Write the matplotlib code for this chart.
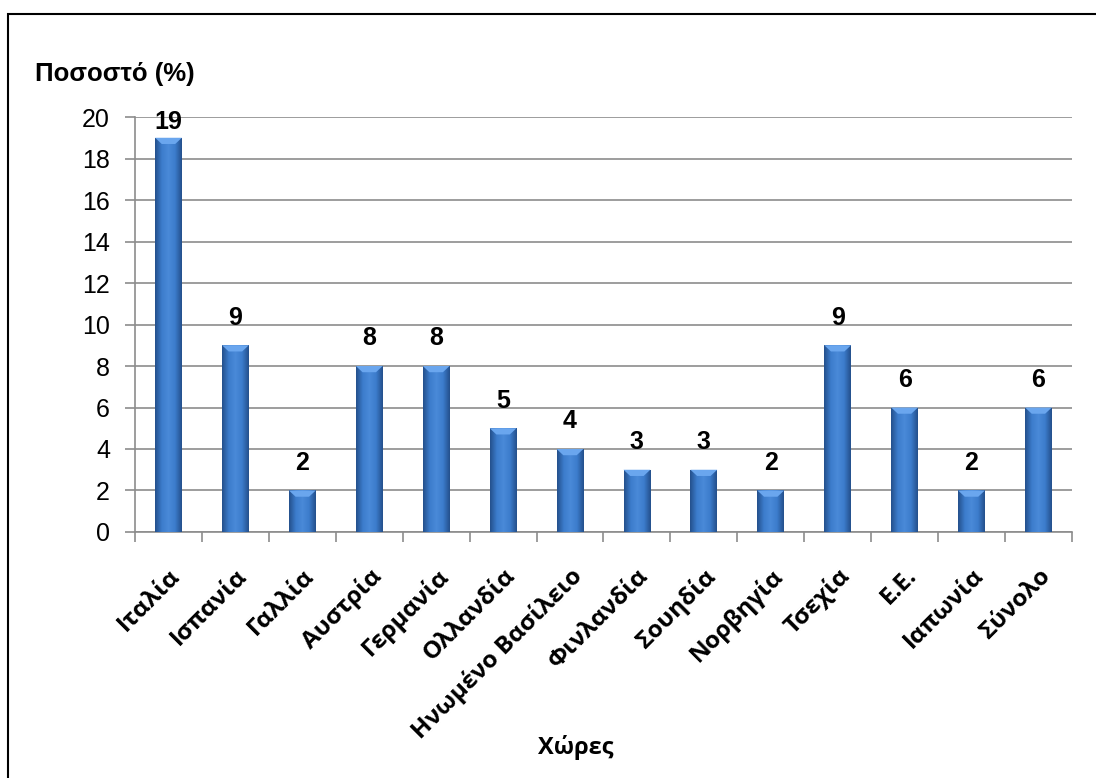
import numpy as np
import matplotlib
matplotlib.use('Agg')
import matplotlib.pyplot as plt
from matplotlib.patches import Rectangle
from matplotlib.colors import LinearSegmentedColormap

plt.rcParams['font.family'] = ['Liberation Sans', 'DejaVu Sans']

# δεδομένα
xores = ['Ιταλία', 'Ισπανία', 'Γαλλία', 'Αυστρία', 'Γερμανία', 'Ολλανδία',
         'Ηνωμένο Βασίλειο', 'Φινλανδία', 'Σουηδία', 'Νορβηγία', 'Τσεχία',
         'Ε.Ε.', 'Ιαπωνία', 'Σύνολο']
pososto = [19, 9, 2, 8, 8, 5, 4, 3, 3, 2, 9, 6, 2, 6]
yticks = list(range(0, 21, 2))

fig = plt.figure(figsize=(10.96, 7.78), dpi=100)
ax = fig.add_axes([0.1232, 0.3162, 0.978 - 0.1232, 0.8496 - 0.3162])

x = np.arange(len(xores))
bars = ax.bar(x, pososto, width=0.4, color='#3a78c8', edgecolor='none', zorder=3)

# οριζόντια διαβάθμιση σε κάθε μπάρα
cmap = LinearSegmentedColormap.from_list('mple', ['#24508c', '#3c7ccc', '#4a8ad8', '#3c7ccc', '#24508c'])
grad = np.linspace(0, 1, 64).reshape(1, -1)
for b, v in zip(bars, pososto):
    x0, w, h = b.get_x(), b.get_width(), b.get_height()
    im = ax.imshow(grad, cmap=cmap, aspect='auto', extent=[x0, x0 + w, 0, h], zorder=4)
    im.set_clip_path(b)
    # φωτεινό πάνω τμήμα
    ax.fill([x0, x0 + w, x0 + w * 0.75, x0 + w * 0.25], [h, h, h - 0.3, h - 0.3],
            color='#6aa6ee', zorder=5, lw=0)
    ax.text(x0 + w / 2, min(h + 0.75, 19.2), str(v),
            ha='center', va='bottom', fontsize=18, fontweight='bold', zorder=6)

ax.set_xlim(-0.5, len(xores) - 0.5)
ax.set_ylim(0, 20)
ax.set_yticks(yticks)
ax.set_yticklabels([str(v) for v in yticks], fontsize=18)
ax.yaxis.grid(True, color='#8c8c8c', lw=1.2, zorder=0)
ax.set_axisbelow(True)

ax.set_xticks(x)
ax.set_xticklabels(xores, rotation=45, ha='right', rotation_mode='anchor',
                   fontsize=17.5, fontweight='bold', family=['Open Sans', 'DejaVu Sans'])
ax.set_xticks(np.arange(-0.5, len(xores), 1), minor=True)
ax.tick_params(axis='x', which='major', length=0, pad=23)
ax.tick_params(axis='x', which='minor', length=7, color='#8c8c8c', width=1.2)
ax.tick_params(axis='y', length=7, color='#8c8c8c', width=1.2, pad=11)

for s in ['top', 'right']:
    ax.spines[s].set_visible(False)
for s in ['left', 'bottom']:
    ax.spines[s].set_color('#8c8c8c')
    ax.spines[s].set_linewidth(1.2)

fig.text(35 / 1096, 1 - 74 / 778, 'Ποσοστό (%)', fontsize=18.5, fontweight='bold',
         ha='left', va='center')
fig.text(576 / 1096, 1 - 748 / 778, 'Χώρες', fontsize=17, fontweight='bold',
         ha='center', va='center', family=['Open Sans', 'DejaVu Sans'])

# πλαίσιο
fig.patches.append(Rectangle((8 / 1096, -0.05), 1.1, 1 - 14 / 778 + 0.05,
                             transform=fig.transFigure, fill=False,
                             edgecolor='black', lw=1.5))

plt.savefig('out.png', dpi=100)
